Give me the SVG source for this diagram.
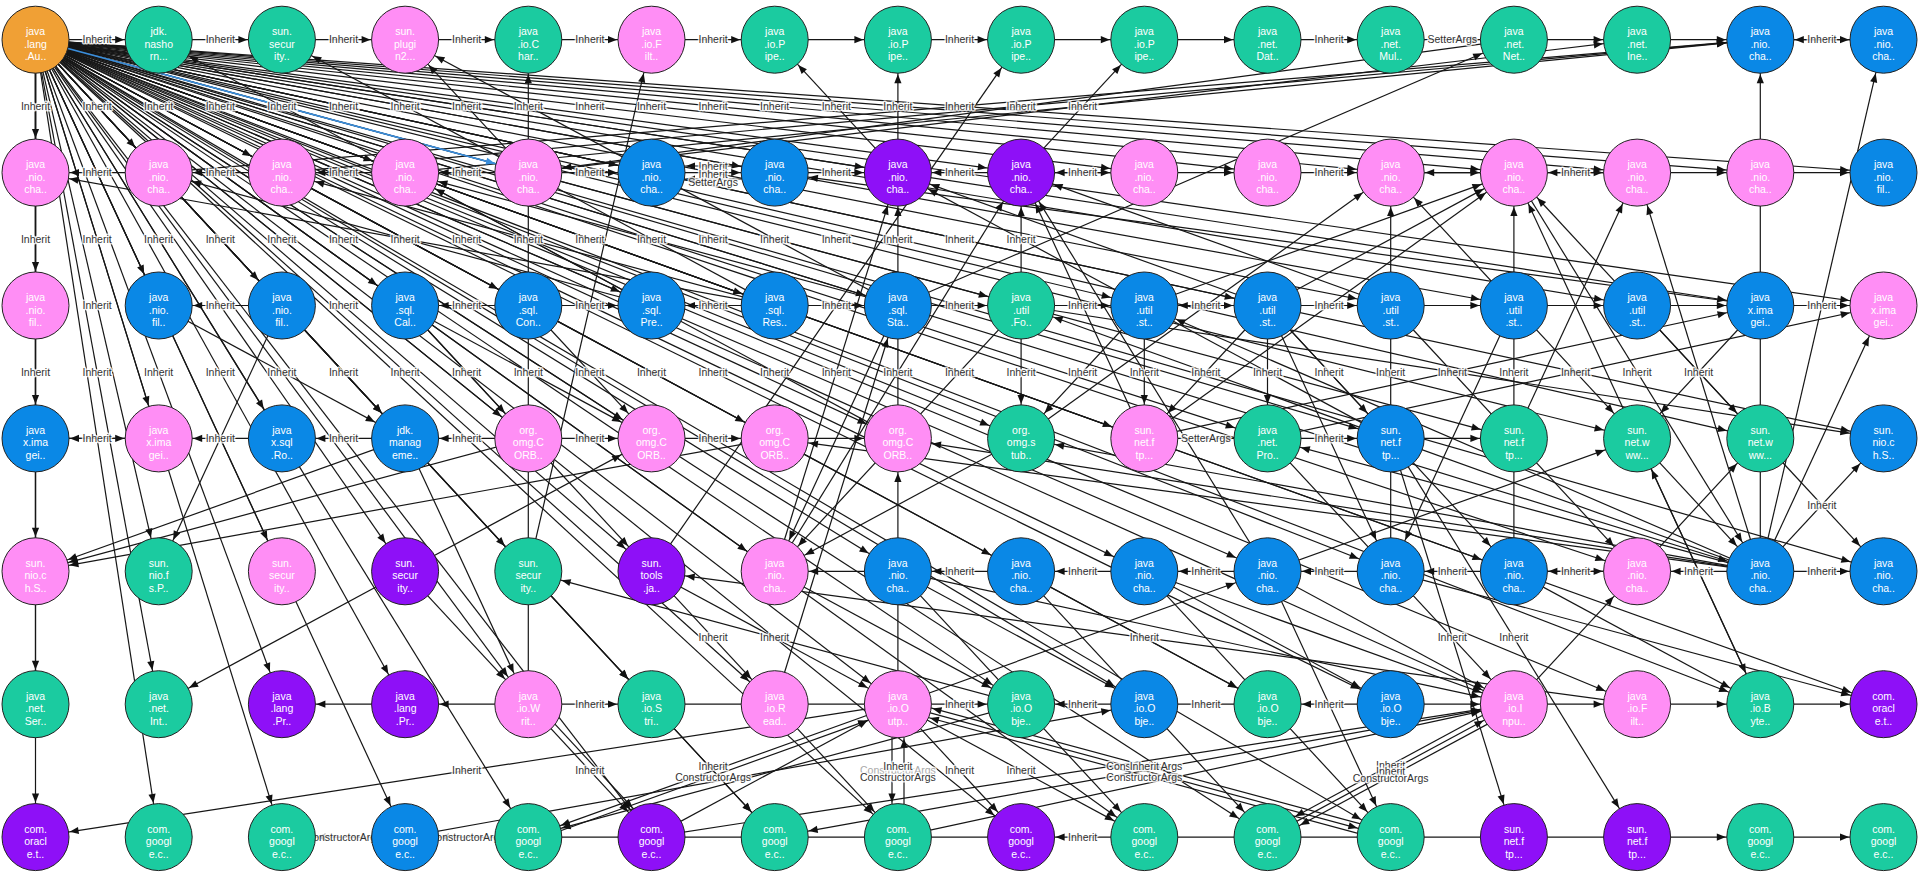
<svg xmlns="http://www.w3.org/2000/svg" width="1919" height="878" viewBox="0 0 1919 878">
<defs>
<style>
.e{fill:none;stroke:#161616;stroke-width:1.2;marker-end:url(#a)}
.p{fill:none;stroke:#161616;stroke-width:1.2}
.bl{fill:none;stroke:#3a8edc;stroke-width:1.6;marker-end:url(#ab)}
.lb text{font-family:"Liberation Sans",Arial,sans-serif;font-size:10.5px;fill:#333;text-anchor:middle;paint-order:stroke;stroke:rgba(255,255,255,0.8);stroke-width:3px;stroke-linejoin:round}
.lb text.f{fill:#aaa}
.nd text{font-family:"Liberation Sans",Arial,sans-serif;font-size:10.5px;fill:#fff;text-anchor:middle}
.nd circle{stroke:#222;stroke-width:1}
.o{fill:#f0a035}.g{fill:#1bcba0}.pk{fill:#ff8ef5}.b{fill:#0a88e6}.u{fill:#8e10f7}
</style>
<marker id="a" markerUnits="userSpaceOnUse" viewBox="0 -6 50 12" markerWidth="50" markerHeight="12" refX="44.5" refY="0" orient="auto" overflow="visible"><path d="M10,0 L1,-3.6 L1,3.6 z" fill="#111"/></marker>
<marker id="ab" markerUnits="userSpaceOnUse" viewBox="0 -6 50 12" markerWidth="50" markerHeight="12" refX="44.5" refY="0" orient="auto" overflow="visible"><path d="M10,0 L1,-3.6 L1,3.6 z" fill="#3a8edc"/></marker>
</defs>
<rect width="1919" height="878" fill="#fff"/>
<g id="connectors">
<g id="fan">
<path class="e" d="M35.5 39.7L35.5 172.6"/><path class="e" d="M35.5 39.7L158.7 172.6"/><path class="e" d="M35.5 39.7L281.9 172.6"/><path class="e" d="M35.5 39.7L405.1 172.6"/><path class="e" d="M35.5 39.7L651.5 172.6"/><path class="e" d="M35.5 39.7L774.7 172.6"/><path class="e" d="M35.5 39.7L897.9 172.6"/><path class="e" d="M35.5 39.7L1021.1 172.6"/><path class="e" d="M35.5 39.7L1144.3 172.6"/><path class="e" d="M35.5 39.7L1267.5 172.6"/><path class="e" d="M35.5 39.7L1390.7 172.6"/><path class="e" d="M35.5 39.7L1513.9 172.6"/><path class="e" d="M35.5 39.7L1637.1 172.6"/><path class="e" d="M35.5 39.7L1760.3 172.6"/><path class="e" d="M35.5 39.7L1883.5 172.6"/>
<path class="e" d="M35.5 39.7L35.5 305.5"/><path class="e" d="M35.5 39.7L158.7 305.5"/><path class="e" d="M35.5 39.7L281.9 305.5"/><path class="e" d="M35.5 39.7L405.1 305.5"/><path class="e" d="M35.5 39.7L528.3 305.5"/><path class="e" d="M35.5 39.7L651.5 305.5"/><path class="e" d="M35.5 39.7L774.7 305.5"/><path class="e" d="M35.5 39.7L897.9 305.5"/><path class="e" d="M35.5 39.7L1021.1 305.5"/><path class="e" d="M35.5 39.7L1144.3 305.5"/><path class="e" d="M35.5 39.7L1267.5 305.5"/><path class="e" d="M35.5 39.7L1390.7 305.5"/><path class="e" d="M35.5 39.7L1513.9 305.5"/><path class="e" d="M35.5 39.7L1637.1 305.5"/><path class="e" d="M35.5 39.7L1760.3 305.5"/><path class="e" d="M35.5 39.7L1883.5 305.5"/>
<path class="e" d="M35.5 39.7L35.5 438.4"/><path class="e" d="M35.5 39.7L158.7 438.4"/><path class="e" d="M35.5 39.7L281.9 438.4"/><path class="e" d="M35.5 39.7L405.1 438.4"/><path class="e" d="M35.5 39.7L528.3 438.4"/><path class="e" d="M35.5 39.7L651.5 438.4"/><path class="e" d="M35.5 39.7L774.7 438.4"/><path class="e" d="M35.5 39.7L897.9 438.4"/><path class="e" d="M35.5 39.7L1021.1 438.4"/><path class="e" d="M35.5 39.7L1144.3 438.4"/><path class="e" d="M35.5 39.7L1267.5 438.4"/><path class="e" d="M35.5 39.7L1390.7 438.4"/><path class="e" d="M35.5 39.7L1513.9 438.4"/><path class="e" d="M35.5 39.7L1637.1 438.4"/><path class="e" d="M35.5 39.7L1760.3 438.4"/><path class="e" d="M35.5 39.7L1883.5 438.4"/>
<path class="e" d="M35.5 39.7L35.5 571.3"/><path class="e" d="M35.5 39.7L158.7 571.3"/><path class="e" d="M35.5 39.7L281.9 571.3"/><path class="e" d="M35.5 39.7L405.1 571.3"/><path class="e" d="M35.5 39.7L528.3 571.3"/><path class="e" d="M35.5 39.7L651.5 571.3"/><path class="e" d="M35.5 39.7L774.7 571.3"/><path class="e" d="M35.5 39.7L897.9 571.3"/><path class="e" d="M35.5 39.7L1021.1 571.3"/><path class="e" d="M35.5 39.7L1144.3 571.3"/><path class="e" d="M35.5 39.7L1267.5 571.3"/><path class="e" d="M35.5 39.7L1390.7 571.3"/><path class="e" d="M35.5 39.7L1513.9 571.3"/><path class="e" d="M35.5 39.7L1637.1 571.3"/><path class="e" d="M35.5 39.7L1760.3 571.3"/><path class="e" d="M35.5 39.7L1883.5 571.3"/>
<path class="e" d="M35.5 39.7L35.5 704.2"/><path class="e" d="M35.5 39.7L158.7 704.2"/><path class="e" d="M35.5 39.7L281.9 704.2"/><path class="e" d="M35.5 39.7L405.1 704.2"/><path class="e" d="M35.5 39.7L528.3 704.2"/><path class="e" d="M35.5 39.7L651.5 704.2"/><path class="e" d="M35.5 39.7L774.7 704.2"/><path class="e" d="M35.5 39.7L897.9 704.2"/><path class="e" d="M35.5 39.7L1021.1 704.2"/><path class="e" d="M35.5 39.7L1144.3 704.2"/><path class="e" d="M35.5 39.7L1267.5 704.2"/><path class="e" d="M35.5 39.7L1390.7 704.2"/><path class="e" d="M35.5 39.7L1513.9 704.2"/><path class="e" d="M35.5 39.7L1637.1 704.2"/><path class="e" d="M35.5 39.7L1760.3 704.2"/><path class="e" d="M35.5 39.7L1883.5 704.2"/>
<path class="e" d="M35.5 39.7L35.5 837.1"/><path class="e" d="M35.5 39.7L158.7 837.1"/><path class="e" d="M35.5 39.7L281.9 837.1"/><path class="e" d="M35.5 39.7L405.1 837.1"/><path class="e" d="M35.5 39.7L528.3 837.1"/><path class="e" d="M35.5 39.7L651.5 837.1"/><path class="e" d="M35.5 39.7L774.7 837.1"/><path class="e" d="M35.5 39.7L897.9 837.1"/><path class="e" d="M35.5 39.7L1021.1 837.1"/><path class="e" d="M35.5 39.7L1144.3 837.1"/><path class="e" d="M35.5 39.7L1267.5 837.1"/><path class="e" d="M35.5 39.7L1390.7 837.1"/>
</g>
<g id="rows">
<path class="e" d="M35.5 39.7L158.7 39.7"/><path class="e" d="M158.7 39.7L281.9 39.7"/><path class="e" d="M281.9 39.7L405.1 39.7"/><path class="e" d="M405.1 39.7L528.3 39.7"/><path class="e" d="M528.3 39.7L651.5 39.7"/><path class="e" d="M651.5 39.7L774.7 39.7"/><path class="e" d="M774.7 39.7L897.9 39.7"/><path class="e" d="M897.9 39.7L1021.1 39.7"/><path class="e" d="M1021.1 39.7L1144.3 39.7"/><path class="e" d="M1144.3 39.7L1267.5 39.7"/><path class="e" d="M1267.5 39.7L1390.7 39.7"/><path class="e" d="M1390.7 39.7L1513.9 39.7"/><path class="e" d="M1513.9 39.7L1637.1 39.7"/><path class="e" d="M1637.1 39.7L1760.3 39.7"/><path class="e" d="M1760.3 39.7L1883.5 39.7"/><path class="e" d="M1883.5 39.7L1760.3 39.7"/>
<path class="e" d="M158.7 172.6L35.5 172.6"/><path class="e" d="M281.9 172.6L158.7 172.6"/><path class="e" d="M405.1 172.6L281.9 172.6"/><path class="e" d="M528.3 172.6L405.1 172.6"/><path class="e" d="M528.3 172.6L651.5 172.6"/><path class="e" d="M651.5 172.6L774.7 172.6"/><path class="e" d="M774.7 166L651.5 166"/><path class="e" d="M774.7 179L651.5 179"/><path class="e" d="M774.7 172.6L897.9 172.6"/><path class="e" d="M1021.1 172.6L897.9 172.6"/><path class="e" d="M1144.3 172.6L1021.1 172.6"/><path class="e" d="M1021.1 172.6L1144.3 172.6"/><path class="e" d="M1144.3 172.6L1267.5 172.6"/><path class="e" d="M1267.5 172.6L1390.7 172.6"/><path class="e" d="M1390.7 172.6L1513.9 172.6"/><path class="e" d="M1513.9 172.6L1390.7 172.6"/><path class="e" d="M1513.9 172.6L1637.1 172.6"/><path class="e" d="M1637.1 172.6L1513.9 172.6"/><path class="e" d="M1637.1 172.6L1760.3 172.6"/><path class="e" d="M1760.3 172.6L1883.5 172.6"/>
<path class="e" d="M281.9 305.5L158.7 305.5"/><path class="e" d="M528.3 305.5L405.1 305.5"/><path class="e" d="M528.3 305.5L651.5 305.5"/><path class="e" d="M774.7 305.5L651.5 305.5"/><path class="e" d="M774.7 305.5L897.9 305.5"/><path class="e" d="M897.9 305.5L1021.1 305.5"/><path class="e" d="M1021.1 305.5L1144.3 305.5"/><path class="e" d="M1144.3 305.5L1267.5 305.5"/><path class="e" d="M1267.5 305.5L1144.3 305.5"/><path class="e" d="M1267.5 305.5L1390.7 305.5"/><path class="e" d="M1390.7 305.5L1513.9 305.5"/><path class="e" d="M1513.9 305.5L1637.1 305.5"/><path class="e" d="M1637.1 305.5L1760.3 305.5"/><path class="e" d="M1760.3 305.5L1883.5 305.5"/>
<path class="e" d="M35.5 438.4L158.7 438.4"/><path class="e" d="M158.7 438.4L35.5 438.4"/><path class="e" d="M281.9 438.4L158.7 438.4"/><path class="e" d="M405.1 438.4L281.9 438.4"/><path class="e" d="M528.3 438.4L405.1 438.4"/><path class="e" d="M528.3 438.4L651.5 438.4"/><path class="e" d="M651.5 438.4L774.7 438.4"/><path class="e" d="M774.7 438.4L897.9 438.4"/><path class="e" d="M1144.3 438.4L1267.5 438.4"/><path class="e" d="M1267.5 438.4L1390.7 438.4"/><path class="e" d="M1390.7 438.4L1513.9 438.4"/>
<path class="e" d="M897.9 571.3L774.7 571.3"/><path class="e" d="M1021.1 571.3L897.9 571.3"/><path class="e" d="M1144.3 571.3L1021.1 571.3"/><path class="e" d="M1267.5 571.3L1144.3 571.3"/><path class="e" d="M1390.7 571.3L1267.5 571.3"/><path class="e" d="M1513.9 571.3L1390.7 571.3"/><path class="e" d="M1513.9 571.3L1637.1 571.3"/><path class="e" d="M1637.1 571.3L1513.9 571.3"/><path class="e" d="M1760.3 571.3L1637.1 571.3"/><path class="e" d="M1760.3 571.3L1883.5 571.3"/>
<path class="e" d="M405.1 704.2L281.9 704.2"/><path class="e" d="M528.3 704.2L405.1 704.2"/><path class="e" d="M528.3 704.2L651.5 704.2"/><path class="p" d="M651.5 704.2L774.7 704.2"/><path class="p" d="M774.7 704.2L897.9 704.2"/><path class="e" d="M897.9 704.2L1021.1 704.2"/><path class="e" d="M1144.3 704.2L1021.1 704.2"/><path class="p" d="M1144.3 704.2L1267.5 704.2"/><path class="e" d="M1390.7 704.2L1267.5 704.2"/><path class="e" d="M1390.7 704.2L1513.9 704.2"/><path class="e" d="M1513.9 704.2L1637.1 704.2"/><path class="e" d="M1637.1 704.2L1760.3 704.2"/><path class="e" d="M1760.3 704.2L1883.5 704.2"/>
<path class="e" d="M405.1 837.1L281.9 837.1"/><path class="e" d="M528.3 837.1L405.1 837.1"/><path class="p" d="M528.3 837.1L1021.1 837.1"/><path class="e" d="M1144.3 837.1L1021.1 837.1"/><path class="p" d="M1144.3 837.1L1637.1 837.1"/><path class="e" d="M1637.1 837.1L1760.3 837.1"/><path class="e" d="M1760.3 837.1L1883.5 837.1"/>
</g>
<g id="cross">
<path class="e" d="M528.3 704.2L528.3 39.7"/><path class="e" d="M1760.3 571.3L1760.3 39.7"/><path class="e" d="M1513.9 571.3L1513.9 172.6"/><path class="e" d="M1390.7 571.3L1390.7 172.6"/><path class="e" d="M897.9 438.4L897.9 172.6"/><path class="e" d="M897.9 172.6L897.9 39.7"/><path class="e" d="M897.9 704.2L897.9 438.4"/>
<path class="e" d="M1760.3 571.3L1883.5 438.4"/><path class="e" d="M1760.3 571.3L1883.5 39.7"/><path class="e" d="M897.9 172.6L774.7 39.7"/><path class="e" d="M1021.1 172.6L1144.3 39.7"/><path class="e" d="M651.5 571.3L1021.1 39.7"/><path class="e" d="M528.3 571.3L651.5 39.7"/><path class="e" d="M528.3 172.6L405.1 39.7"/><path class="e" d="M897.9 305.5L405.1 39.7"/><path class="e" d="M774.7 305.5L281.9 39.7"/><path class="e" d="M651.5 305.5L158.7 39.7"/>
<path class="e" d="M158.7 172.6L1760.3 39.7"/><path class="e" d="M281.9 172.6L1760.3 39.7"/><path class="e" d="M405.1 172.6L1760.3 39.7"/><path class="e" d="M528.3 172.6L1637.1 39.7"/><path class="e" d="M1513.9 39.7L528.3 172.6"/><path class="e" d="M897.9 305.5L1513.9 39.7"/>
<path class="e" d="M774.7 305.5L35.5 172.6"/><path class="e" d="M651.5 305.5L158.7 172.6"/><path class="e" d="M774.7 305.5L281.9 172.6"/><path class="e" d="M897.9 305.5L405.1 172.6"/><path class="e" d="M897.9 438.4L405.1 172.6"/><path class="e" d="M1760.3 305.5L774.7 172.6"/><path class="e" d="M774.7 571.3L897.9 172.6"/><path class="e" d="M1267.5 305.5L897.9 172.6"/><path class="e" d="M1390.7 438.4L897.9 172.6"/><path class="e" d="M774.7 571.3L1021.1 172.6"/><path class="e" d="M1144.3 438.4L1021.1 172.6"/><path class="e" d="M1267.5 571.3L1021.1 172.6"/><path class="e" d="M1390.7 305.5L1021.1 172.6"/><path class="e" d="M1021.1 305.5L1021.1 172.6"/>
<path class="e" d="M1021.1 438.4L1390.7 172.6"/><path class="e" d="M1513.9 305.5L1390.7 172.6"/><path class="e" d="M1144.3 305.5L1513.9 172.6"/><path class="e" d="M1144.3 438.4L1513.9 172.6"/><path class="e" d="M1267.5 305.5L1513.9 172.6"/><path class="e" d="M1637.1 438.4L1513.9 172.6"/><path class="e" d="M1760.3 438.4L1513.9 172.6"/><path class="e" d="M1513.9 438.4L1637.1 172.6"/><path class="e" d="M1760.3 571.3L1637.1 172.6"/><path class="e" d="M1637.1 571.3L1760.3 438.4"/>
<path class="e" d="M1021.1 305.5L1021.1 438.4"/><path class="e" d="M1144.3 305.5L1021.1 438.4"/><path class="e" d="M1144.3 305.5L1144.3 438.4"/><path class="e" d="M1267.5 305.5L1144.3 438.4"/><path class="e" d="M1267.5 305.5L1267.5 438.4"/><path class="e" d="M1267.5 305.5L1390.7 438.4"/>
<path class="e" d="M281.9 305.5L158.7 571.3"/><path class="e" d="M405.1 438.4L35.5 571.3"/><path class="e" d="M528.3 438.4L35.5 571.3"/><path class="e" d="M774.7 438.4L35.5 571.3"/><path class="e" d="M405.1 438.4L528.3 704.2"/><path class="e" d="M405.1 571.3L528.3 704.2"/><path class="e" d="M405.1 571.3L158.7 704.2"/><path class="e" d="M405.1 571.3L651.5 438.4"/><path class="e" d="M528.3 571.3L651.5 704.2"/>
<path class="e" d="M528.3 704.2L651.5 837.1"/><path class="e" d="M532.7 700.1L655.9 833"/><path class="e" d="M897.9 704.2L35.5 837.1"/><path class="e" d="M897.9 704.2L528.3 837.1"/><path class="e" d="M530 841.8L899.6 708.9"/><path class="e" d="M892 704.2L892 837.1"/><path class="e" d="M904 837.1L904 704.2"/><path class="e" d="M897.9 704.2L1021.1 837.1"/><path class="e" d="M897.9 704.2L1144.3 837.1"/><path class="e" d="M897.9 704.2L1390.7 837.1"/><path class="e" d="M1389.4 841.9L896.6 709"/><path class="e" d="M1392 832.3L899.2 699.4"/>
<path class="e" d="M651.5 571.3L774.7 704.2"/><path class="e" d="M651.5 571.3L897.9 704.2"/><path class="e" d="M1637.1 704.2L651.5 571.3"/><path class="e" d="M1390.7 438.4L1513.9 837.1"/><path class="e" d="M1390.7 438.4L1637.1 837.1"/><path class="e" d="M1513.9 704.2L1637.1 571.3"/><path class="e" d="M1144.3 571.3L1513.9 704.2"/><path class="e" d="M1267.5 571.3L1513.9 704.2"/><path class="e" d="M897.9 571.3L1513.9 704.2"/><path class="e" d="M1267.5 438.4L1513.9 704.2"/>
<path class="e" d="M1267.5 837.1L1513.9 704.2"/><path class="e" d="M1516.3 708.6L1269.9 841.5"/><path class="e" d="M1511.5 699.8L1265.1 832.7"/><path class="e" d="M1513.9 571.3L1760.3 704.2"/><path class="e" d="M1390.7 571.3L1883.5 704.2"/><path class="e" d="M1637.1 438.4L1760.3 704.2"/><path class="e" d="M1144.3 571.3L1390.7 704.2"/>
<path class="e" d="M774.7 704.2L897.9 305.5"/><path class="e" d="M774.7 704.2L897.9 837.1"/><path class="e" d="M651.5 704.2L774.7 837.1"/><path class="e" d="M1513.9 704.2L774.7 837.1"/><path class="e" d="M651.5 837.1L897.9 704.2"/><path class="e" d="M897.9 704.2L1267.5 571.3"/><path class="e" d="M774.7 571.3L1021.1 704.2"/><path class="e" d="M897.9 571.3L1144.3 704.2"/><path class="e" d="M1021.1 571.3L1267.5 704.2"/><path class="e" d="M897.9 571.3L1144.3 837.1"/><path class="e" d="M1021.1 571.3L1267.5 837.1"/>
<path class="e" d="M1267.5 571.3L1637.1 438.4"/><path class="e" d="M1021.1 305.5L1883.5 438.4"/><path class="e" d="M1144.3 438.4L1760.3 305.5"/><path class="e" d="M1267.5 438.4L1883.5 305.5"/><path class="e" d="M1760.3 571.3L1144.3 305.5"/><path class="e" d="M1760.3 571.3L1021.1 305.5"/><path class="e" d="M1760.3 571.3L1267.5 438.4"/><path class="e" d="M1760.3 571.3L1021.1 438.4"/><path class="e" d="M1760.3 571.3L897.9 438.4"/><path class="e" d="M1760.3 571.3L774.7 438.4"/>
<path class="e" d="M1637.1 438.4L1760.3 571.3"/><path class="e" d="M1760.3 438.4L1883.5 571.3"/><path class="e" d="M1760.3 704.2L1637.1 438.4"/><path class="e" d="M405.1 305.5L651.5 438.4"/><path class="e" d="M405.1 305.5L651.5 571.3"/><path class="e" d="M1021.1 704.2L528.3 571.3"/><path class="e" d="M1021.1 704.2L528.3 837.1"/><path class="e" d="M405.1 837.1L1144.3 704.2"/>
<path class="e" d="M1513.9 305.5L1637.1 438.4"/><path class="e" d="M1637.1 305.5L1760.3 438.4"/><path class="e" d="M1513.9 305.5L1390.7 571.3"/><path class="e" d="M1390.7 305.5L1637.1 571.3"/><path class="e" d="M1267.5 305.5L1513.9 571.3"/><path class="e" d="M1267.5 305.5L1390.7 571.3"/><path class="e" d="M1760.3 305.5L1637.1 438.4"/><path class="e" d="M1760.3 571.3L1883.5 305.5"/><path class="e" d="M1513.9 172.6L1760.3 571.3"/>
<path class="e" d="M1021.1 438.4L774.7 571.3"/><path class="e" d="M1021.1 305.5L774.7 571.3"/><path class="e" d="M897.9 305.5L774.7 571.3"/><path class="e" d="M158.7 305.5L405.1 438.4"/><path class="e" d="M281.9 305.5L405.1 438.4"/><path class="e" d="M405.1 305.5L528.3 438.4"/><path class="e" d="M528.3 305.5L651.5 438.4"/><path class="e" d="M1267.5 571.3L1390.7 837.1"/><path class="e" d="M1144.3 571.3L1390.7 837.1"/><path class="e" d="M651.5 837.1L1513.9 704.2"/><path class="e" d="M897.9 837.1L1513.9 704.2"/>
</g>
<path id="hl" class="bl" d="M35.5 39.7L528.3 172.6"/>
<g class="lb">
<text x="35.5" y="109.8">Inherit</text><text x="97.1" y="109.8">Inherit</text><text x="158.7" y="109.8">Inherit</text><text x="220.3" y="109.8">Inherit</text><text x="281.9" y="109.8">Inherit</text><text x="343.5" y="109.8">Inherit</text><text x="405.1" y="109.8">Inherit</text><text x="466.7" y="109.8">Inherit</text><text x="528.3" y="109.8">Inherit</text><text x="589.9" y="109.8">Inherit</text><text x="651.5" y="109.8">Inherit</text><text x="713.1" y="109.8">Inherit</text><text x="774.7" y="109.8">Inherit</text><text x="836.3" y="109.8">Inherit</text><text x="897.9" y="109.8">Inherit</text><text x="959.5" y="109.8">Inherit</text><text x="1021.1" y="109.8">Inherit</text><text x="1082.7" y="109.8">Inherit</text>
<text x="35.5" y="242.7">Inherit</text><text x="97.1" y="242.7">Inherit</text><text x="158.7" y="242.7">Inherit</text><text x="220.3" y="242.7">Inherit</text><text x="281.9" y="242.7">Inherit</text><text x="343.5" y="242.7">Inherit</text><text x="405.1" y="242.7">Inherit</text><text x="466.7" y="242.7">Inherit</text><text x="528.3" y="242.7">Inherit</text><text x="589.9" y="242.7">Inherit</text><text x="651.5" y="242.7">Inherit</text><text x="713.1" y="242.7">Inherit</text><text x="774.7" y="242.7">Inherit</text><text x="836.3" y="242.7">Inherit</text><text x="897.9" y="242.7">Inherit</text><text x="959.5" y="242.7">Inherit</text><text x="1021.1" y="242.7">Inherit</text>
<text x="35.5" y="375.6">Inherit</text><text x="97.1" y="375.6">Inherit</text><text x="158.7" y="375.6">Inherit</text><text x="220.3" y="375.6">Inherit</text><text x="281.9" y="375.6">Inherit</text><text x="343.5" y="375.6">Inherit</text><text x="405.1" y="375.6">Inherit</text><text x="466.7" y="375.6">Inherit</text><text x="528.3" y="375.6">Inherit</text><text x="589.9" y="375.6">Inherit</text><text x="651.5" y="375.6">Inherit</text><text x="713.1" y="375.6">Inherit</text><text x="774.7" y="375.6">Inherit</text><text x="836.3" y="375.6">Inherit</text><text x="897.9" y="375.6">Inherit</text><text x="959.5" y="375.6">Inherit</text><text x="1021.1" y="375.6">Inherit</text><text x="1082.7" y="375.6">Inherit</text><text x="1144.3" y="375.6">Inherit</text><text x="1205.9" y="375.6">Inherit</text><text x="1267.5" y="375.6">Inherit</text><text x="1329.1" y="375.6">Inherit</text><text x="1390.7" y="375.6">Inherit</text><text x="1452.3" y="375.6">Inherit</text><text x="1513.9" y="375.6">Inherit</text><text x="1575.5" y="375.6">Inherit</text><text x="1637.1" y="375.6">Inherit</text><text x="1698.7" y="375.6">Inherit</text>
<text x="97.1" y="43.3">Inherit</text><text x="220.3" y="43.3">Inherit</text><text x="343.5" y="43.3">Inherit</text><text x="466.7" y="43.3">Inherit</text><text x="589.9" y="43.3">Inherit</text><text x="713.1" y="43.3">Inherit</text><text x="959.5" y="43.3">Inherit</text><text x="1329.1" y="43.3">Inherit</text><text x="1452.3" y="43.3">SetterArgs</text><text x="1821.9" y="43.3">Inherit</text>
<text x="97.1" y="176.2">Inherit</text><text x="220.3" y="176.2">Inherit</text><text x="343.5" y="176.2">Inherit</text><text x="466.7" y="176.2">Inherit</text><text x="589.9" y="176.2">Inherit</text><text x="713.1" y="169.5">Inherit</text><text x="713.1" y="177.5">Inherit</text><text x="713.1" y="186">SetterArgs</text><text x="836.3" y="176.2">Inherit</text><text x="959.5" y="176.2">Inherit</text><text x="1082.7" y="176.2">Inherit</text><text x="1329.1" y="176.2">Inherit</text><text x="1575.5" y="176.2">Inherit</text>
<text x="97.1" y="309.1">Inherit</text><text x="220.3" y="309.1">Inherit</text><text x="343.5" y="309.1">Inherit</text><text x="466.7" y="309.1">Inherit</text><text x="589.9" y="309.1">Inherit</text><text x="713.1" y="309.1">Inherit</text><text x="836.3" y="309.1">Inherit</text><text x="959.5" y="309.1">Inherit</text><text x="1082.7" y="309.1">Inherit</text><text x="1205.9" y="309.1">Inherit</text><text x="1329.1" y="309.1">Inherit</text><text x="1821.9" y="309.1">Inherit</text>
<text x="97.1" y="442">Inherit</text><text x="220.3" y="442">Inherit</text><text x="343.5" y="442">Inherit</text><text x="466.7" y="442">Inherit</text><text x="589.9" y="442">Inherit</text><text x="713.1" y="442">Inherit</text><text x="1205.9" y="442">SetterArgs</text><text x="1329.1" y="442">Inherit</text>
<text x="1821.9" y="508.5">Inherit</text>
<text x="959.5" y="574.9">Inherit</text><text x="1082.7" y="574.9">Inherit</text><text x="1205.9" y="574.9">Inherit</text><text x="1329.1" y="574.9">Inherit</text><text x="1452.3" y="574.9">Inherit</text><text x="1575.5" y="574.9">Inherit</text><text x="1698.7" y="574.9">Inherit</text><text x="1821.9" y="574.9">Inherit</text>
<text x="713.1" y="641.4">Inherit</text><text x="774.7" y="641.4">Inherit</text><text x="1144.3" y="641.4">Inherit</text><text x="1452.3" y="641.4">Inherit</text><text x="1513.9" y="641.4">Inherit</text>
<text x="589.9" y="707.8">Inherit</text><text x="959.5" y="707.8">Inherit</text><text x="1082.7" y="707.8">Inherit</text><text x="1205.9" y="707.8">Inherit</text><text x="1329.1" y="707.8">Inherit</text>
<text x="466.7" y="774.3">Inherit</text><text x="589.9" y="774.3">Inherit</text><text x="713.1" y="769.5">Inherit</text><text x="713.1" y="780.5">ConstructorArgs</text><text class="f" x="897.9" y="774.3">ConstructorArgs</text><text x="897.9" y="769.5">Inherit</text><text x="897.9" y="780.5">ConstructorArgs</text><text x="959.5" y="774.3">Inherit</text><text x="1021.1" y="774.3">Inherit</text><text x="1144.3" y="769.5">ConstructorArgs</text><text x="1144.3" y="769.5">Inherit</text><text x="1144.3" y="780.5">ConstructorArgs</text><text x="1390.7" y="768.5">Inherit</text><text x="1390.7" y="774.5">Inherit</text><text x="1390.7" y="781.5">ConstructorArgs</text>
<text x="343.5" y="840.7">ConstructorArgs</text><text x="466.7" y="840.7">ConstructorArgs</text><text x="1082.7" y="840.7">Inherit</text>
</g>
</g>
<g id="nodes" class="nd">
<g id="n0_0" transform="translate(35.5 39.7)"><circle r="33.5" class="o"/><text><tspan x="0" y="-4.5">java</tspan><tspan x="0" y="8">.lang</tspan><tspan x="0" y="20.5">.Au..</tspan></text></g>
<g id="n0_1" transform="translate(158.7 39.7)"><circle r="33.5" class="g"/><text><tspan x="0" y="-4.5">jdk.</tspan><tspan x="0" y="8">nasho</tspan><tspan x="0" y="20.5">rn...</tspan></text></g>
<g id="n0_2" transform="translate(281.9 39.7)"><circle r="33.5" class="g"/><text><tspan x="0" y="-4.5">sun.</tspan><tspan x="0" y="8">secur</tspan><tspan x="0" y="20.5">ity..</tspan></text></g>
<g id="n0_3" transform="translate(405.1 39.7)"><circle r="33.5" class="pk"/><text><tspan x="0" y="-4.5">sun.</tspan><tspan x="0" y="8">plugi</tspan><tspan x="0" y="20.5">n2...</tspan></text></g>
<g id="n0_4" transform="translate(528.3 39.7)"><circle r="33.5" class="g"/><text><tspan x="0" y="-4.5">java</tspan><tspan x="0" y="8">.io.C</tspan><tspan x="0" y="20.5">har..</tspan></text></g>
<g id="n0_5" transform="translate(651.5 39.7)"><circle r="33.5" class="pk"/><text><tspan x="0" y="-4.5">java</tspan><tspan x="0" y="8">.io.F</tspan><tspan x="0" y="20.5">ilt..</tspan></text></g>
<g id="n0_6" transform="translate(774.7 39.7)"><circle r="33.5" class="g"/><text><tspan x="0" y="-4.5">java</tspan><tspan x="0" y="8">.io.P</tspan><tspan x="0" y="20.5">ipe..</tspan></text></g>
<g id="n0_7" transform="translate(897.9 39.7)"><circle r="33.5" class="g"/><text><tspan x="0" y="-4.5">java</tspan><tspan x="0" y="8">.io.P</tspan><tspan x="0" y="20.5">ipe..</tspan></text></g>
<g id="n0_8" transform="translate(1021.1 39.7)"><circle r="33.5" class="g"/><text><tspan x="0" y="-4.5">java</tspan><tspan x="0" y="8">.io.P</tspan><tspan x="0" y="20.5">ipe..</tspan></text></g>
<g id="n0_9" transform="translate(1144.3 39.7)"><circle r="33.5" class="g"/><text><tspan x="0" y="-4.5">java</tspan><tspan x="0" y="8">.io.P</tspan><tspan x="0" y="20.5">ipe..</tspan></text></g>
<g id="n0_10" transform="translate(1267.5 39.7)"><circle r="33.5" class="g"/><text><tspan x="0" y="-4.5">java</tspan><tspan x="0" y="8">.net.</tspan><tspan x="0" y="20.5">Dat..</tspan></text></g>
<g id="n0_11" transform="translate(1390.7 39.7)"><circle r="33.5" class="g"/><text><tspan x="0" y="-4.5">java</tspan><tspan x="0" y="8">.net.</tspan><tspan x="0" y="20.5">Mul..</tspan></text></g>
<g id="n0_12" transform="translate(1513.9 39.7)"><circle r="33.5" class="g"/><text><tspan x="0" y="-4.5">java</tspan><tspan x="0" y="8">.net.</tspan><tspan x="0" y="20.5">Net..</tspan></text></g>
<g id="n0_13" transform="translate(1637.1 39.7)"><circle r="33.5" class="g"/><text><tspan x="0" y="-4.5">java</tspan><tspan x="0" y="8">.net.</tspan><tspan x="0" y="20.5">Ine..</tspan></text></g>
<g id="n0_14" transform="translate(1760.3 39.7)"><circle r="33.5" class="b"/><text><tspan x="0" y="-4.5">java</tspan><tspan x="0" y="8">.nio.</tspan><tspan x="0" y="20.5">cha..</tspan></text></g>
<g id="n0_15" transform="translate(1883.5 39.7)"><circle r="33.5" class="b"/><text><tspan x="0" y="-4.5">java</tspan><tspan x="0" y="8">.nio.</tspan><tspan x="0" y="20.5">cha..</tspan></text></g>
<g id="n1_0" transform="translate(35.5 172.6)"><circle r="33.5" class="pk"/><text><tspan x="0" y="-4.5">java</tspan><tspan x="0" y="8">.nio.</tspan><tspan x="0" y="20.5">cha..</tspan></text></g>
<g id="n1_1" transform="translate(158.7 172.6)"><circle r="33.5" class="pk"/><text><tspan x="0" y="-4.5">java</tspan><tspan x="0" y="8">.nio.</tspan><tspan x="0" y="20.5">cha..</tspan></text></g>
<g id="n1_2" transform="translate(281.9 172.6)"><circle r="33.5" class="pk"/><text><tspan x="0" y="-4.5">java</tspan><tspan x="0" y="8">.nio.</tspan><tspan x="0" y="20.5">cha..</tspan></text></g>
<g id="n1_3" transform="translate(405.1 172.6)"><circle r="33.5" class="pk"/><text><tspan x="0" y="-4.5">java</tspan><tspan x="0" y="8">.nio.</tspan><tspan x="0" y="20.5">cha..</tspan></text></g>
<g id="n1_4" transform="translate(528.3 172.6)"><circle r="33.5" class="pk"/><text><tspan x="0" y="-4.5">java</tspan><tspan x="0" y="8">.nio.</tspan><tspan x="0" y="20.5">cha..</tspan></text></g>
<g id="n1_5" transform="translate(651.5 172.6)"><circle r="33.5" class="b"/><text><tspan x="0" y="-4.5">java</tspan><tspan x="0" y="8">.nio.</tspan><tspan x="0" y="20.5">cha..</tspan></text></g>
<g id="n1_6" transform="translate(774.7 172.6)"><circle r="33.5" class="b"/><text><tspan x="0" y="-4.5">java</tspan><tspan x="0" y="8">.nio.</tspan><tspan x="0" y="20.5">cha..</tspan></text></g>
<g id="n1_7" transform="translate(897.9 172.6)"><circle r="33.5" class="u"/><text><tspan x="0" y="-4.5">java</tspan><tspan x="0" y="8">.nio.</tspan><tspan x="0" y="20.5">cha..</tspan></text></g>
<g id="n1_8" transform="translate(1021.1 172.6)"><circle r="33.5" class="u"/><text><tspan x="0" y="-4.5">java</tspan><tspan x="0" y="8">.nio.</tspan><tspan x="0" y="20.5">cha..</tspan></text></g>
<g id="n1_9" transform="translate(1144.3 172.6)"><circle r="33.5" class="pk"/><text><tspan x="0" y="-4.5">java</tspan><tspan x="0" y="8">.nio.</tspan><tspan x="0" y="20.5">cha..</tspan></text></g>
<g id="n1_10" transform="translate(1267.5 172.6)"><circle r="33.5" class="pk"/><text><tspan x="0" y="-4.5">java</tspan><tspan x="0" y="8">.nio.</tspan><tspan x="0" y="20.5">cha..</tspan></text></g>
<g id="n1_11" transform="translate(1390.7 172.6)"><circle r="33.5" class="pk"/><text><tspan x="0" y="-4.5">java</tspan><tspan x="0" y="8">.nio.</tspan><tspan x="0" y="20.5">cha..</tspan></text></g>
<g id="n1_12" transform="translate(1513.9 172.6)"><circle r="33.5" class="pk"/><text><tspan x="0" y="-4.5">java</tspan><tspan x="0" y="8">.nio.</tspan><tspan x="0" y="20.5">cha..</tspan></text></g>
<g id="n1_13" transform="translate(1637.1 172.6)"><circle r="33.5" class="pk"/><text><tspan x="0" y="-4.5">java</tspan><tspan x="0" y="8">.nio.</tspan><tspan x="0" y="20.5">cha..</tspan></text></g>
<g id="n1_14" transform="translate(1760.3 172.6)"><circle r="33.5" class="pk"/><text><tspan x="0" y="-4.5">java</tspan><tspan x="0" y="8">.nio.</tspan><tspan x="0" y="20.5">cha..</tspan></text></g>
<g id="n1_15" transform="translate(1883.5 172.6)"><circle r="33.5" class="b"/><text><tspan x="0" y="-4.5">java</tspan><tspan x="0" y="8">.nio.</tspan><tspan x="0" y="20.5">fil..</tspan></text></g>
<g id="n2_0" transform="translate(35.5 305.5)"><circle r="33.5" class="pk"/><text><tspan x="0" y="-4.5">java</tspan><tspan x="0" y="8">.nio.</tspan><tspan x="0" y="20.5">fil..</tspan></text></g>
<g id="n2_1" transform="translate(158.7 305.5)"><circle r="33.5" class="b"/><text><tspan x="0" y="-4.5">java</tspan><tspan x="0" y="8">.nio.</tspan><tspan x="0" y="20.5">fil..</tspan></text></g>
<g id="n2_2" transform="translate(281.9 305.5)"><circle r="33.5" class="b"/><text><tspan x="0" y="-4.5">java</tspan><tspan x="0" y="8">.nio.</tspan><tspan x="0" y="20.5">fil..</tspan></text></g>
<g id="n2_3" transform="translate(405.1 305.5)"><circle r="33.5" class="b"/><text><tspan x="0" y="-4.5">java</tspan><tspan x="0" y="8">.sql.</tspan><tspan x="0" y="20.5">Cal..</tspan></text></g>
<g id="n2_4" transform="translate(528.3 305.5)"><circle r="33.5" class="b"/><text><tspan x="0" y="-4.5">java</tspan><tspan x="0" y="8">.sql.</tspan><tspan x="0" y="20.5">Con..</tspan></text></g>
<g id="n2_5" transform="translate(651.5 305.5)"><circle r="33.5" class="b"/><text><tspan x="0" y="-4.5">java</tspan><tspan x="0" y="8">.sql.</tspan><tspan x="0" y="20.5">Pre..</tspan></text></g>
<g id="n2_6" transform="translate(774.7 305.5)"><circle r="33.5" class="b"/><text><tspan x="0" y="-4.5">java</tspan><tspan x="0" y="8">.sql.</tspan><tspan x="0" y="20.5">Res..</tspan></text></g>
<g id="n2_7" transform="translate(897.9 305.5)"><circle r="33.5" class="b"/><text><tspan x="0" y="-4.5">java</tspan><tspan x="0" y="8">.sql.</tspan><tspan x="0" y="20.5">Sta..</tspan></text></g>
<g id="n2_8" transform="translate(1021.1 305.5)"><circle r="33.5" class="g"/><text><tspan x="0" y="-4.5">java</tspan><tspan x="0" y="8">.util</tspan><tspan x="0" y="20.5">.Fo..</tspan></text></g>
<g id="n2_9" transform="translate(1144.3 305.5)"><circle r="33.5" class="b"/><text><tspan x="0" y="-4.5">java</tspan><tspan x="0" y="8">.util</tspan><tspan x="0" y="20.5">.st..</tspan></text></g>
<g id="n2_10" transform="translate(1267.5 305.5)"><circle r="33.5" class="b"/><text><tspan x="0" y="-4.5">java</tspan><tspan x="0" y="8">.util</tspan><tspan x="0" y="20.5">.st..</tspan></text></g>
<g id="n2_11" transform="translate(1390.7 305.5)"><circle r="33.5" class="b"/><text><tspan x="0" y="-4.5">java</tspan><tspan x="0" y="8">.util</tspan><tspan x="0" y="20.5">.st..</tspan></text></g>
<g id="n2_12" transform="translate(1513.9 305.5)"><circle r="33.5" class="b"/><text><tspan x="0" y="-4.5">java</tspan><tspan x="0" y="8">.util</tspan><tspan x="0" y="20.5">.st..</tspan></text></g>
<g id="n2_13" transform="translate(1637.1 305.5)"><circle r="33.5" class="b"/><text><tspan x="0" y="-4.5">java</tspan><tspan x="0" y="8">.util</tspan><tspan x="0" y="20.5">.st..</tspan></text></g>
<g id="n2_14" transform="translate(1760.3 305.5)"><circle r="33.5" class="b"/><text><tspan x="0" y="-4.5">java</tspan><tspan x="0" y="8">x.ima</tspan><tspan x="0" y="20.5">gei..</tspan></text></g>
<g id="n2_15" transform="translate(1883.5 305.5)"><circle r="33.5" class="pk"/><text><tspan x="0" y="-4.5">java</tspan><tspan x="0" y="8">x.ima</tspan><tspan x="0" y="20.5">gei..</tspan></text></g>
<g id="n3_0" transform="translate(35.5 438.4)"><circle r="33.5" class="b"/><text><tspan x="0" y="-4.5">java</tspan><tspan x="0" y="8">x.ima</tspan><tspan x="0" y="20.5">gei..</tspan></text></g>
<g id="n3_1" transform="translate(158.7 438.4)"><circle r="33.5" class="pk"/><text><tspan x="0" y="-4.5">java</tspan><tspan x="0" y="8">x.ima</tspan><tspan x="0" y="20.5">gei..</tspan></text></g>
<g id="n3_2" transform="translate(281.9 438.4)"><circle r="33.5" class="b"/><text><tspan x="0" y="-4.5">java</tspan><tspan x="0" y="8">x.sql</tspan><tspan x="0" y="20.5">.Ro..</tspan></text></g>
<g id="n3_3" transform="translate(405.1 438.4)"><circle r="33.5" class="b"/><text><tspan x="0" y="-4.5">jdk.</tspan><tspan x="0" y="8">manag</tspan><tspan x="0" y="20.5">eme..</tspan></text></g>
<g id="n3_4" transform="translate(528.3 438.4)"><circle r="33.5" class="pk"/><text><tspan x="0" y="-4.5">org.</tspan><tspan x="0" y="8">omg.C</tspan><tspan x="0" y="20.5">ORB..</tspan></text></g>
<g id="n3_5" transform="translate(651.5 438.4)"><circle r="33.5" class="pk"/><text><tspan x="0" y="-4.5">org.</tspan><tspan x="0" y="8">omg.C</tspan><tspan x="0" y="20.5">ORB..</tspan></text></g>
<g id="n3_6" transform="translate(774.7 438.4)"><circle r="33.5" class="pk"/><text><tspan x="0" y="-4.5">org.</tspan><tspan x="0" y="8">omg.C</tspan><tspan x="0" y="20.5">ORB..</tspan></text></g>
<g id="n3_7" transform="translate(897.9 438.4)"><circle r="33.5" class="pk"/><text><tspan x="0" y="-4.5">org.</tspan><tspan x="0" y="8">omg.C</tspan><tspan x="0" y="20.5">ORB..</tspan></text></g>
<g id="n3_8" transform="translate(1021.1 438.4)"><circle r="33.5" class="g"/><text><tspan x="0" y="-4.5">org.</tspan><tspan x="0" y="8">omg.s</tspan><tspan x="0" y="20.5">tub..</tspan></text></g>
<g id="n3_9" transform="translate(1144.3 438.4)"><circle r="33.5" class="pk"/><text><tspan x="0" y="-4.5">sun.</tspan><tspan x="0" y="8">net.f</tspan><tspan x="0" y="20.5">tp...</tspan></text></g>
<g id="n3_10" transform="translate(1267.5 438.4)"><circle r="33.5" class="g"/><text><tspan x="0" y="-4.5">java</tspan><tspan x="0" y="8">.net.</tspan><tspan x="0" y="20.5">Pro..</tspan></text></g>
<g id="n3_11" transform="translate(1390.7 438.4)"><circle r="33.5" class="b"/><text><tspan x="0" y="-4.5">sun.</tspan><tspan x="0" y="8">net.f</tspan><tspan x="0" y="20.5">tp...</tspan></text></g>
<g id="n3_12" transform="translate(1513.9 438.4)"><circle r="33.5" class="g"/><text><tspan x="0" y="-4.5">sun.</tspan><tspan x="0" y="8">net.f</tspan><tspan x="0" y="20.5">tp...</tspan></text></g>
<g id="n3_13" transform="translate(1637.1 438.4)"><circle r="33.5" class="g"/><text><tspan x="0" y="-4.5">sun.</tspan><tspan x="0" y="8">net.w</tspan><tspan x="0" y="20.5">ww...</tspan></text></g>
<g id="n3_14" transform="translate(1760.3 438.4)"><circle r="33.5" class="g"/><text><tspan x="0" y="-4.5">sun.</tspan><tspan x="0" y="8">net.w</tspan><tspan x="0" y="20.5">ww...</tspan></text></g>
<g id="n3_15" transform="translate(1883.5 438.4)"><circle r="33.5" class="b"/><text><tspan x="0" y="-4.5">sun.</tspan><tspan x="0" y="8">nio.c</tspan><tspan x="0" y="20.5">h.S..</tspan></text></g>
<g id="n4_0" transform="translate(35.5 571.3)"><circle r="33.5" class="pk"/><text><tspan x="0" y="-4.5">sun.</tspan><tspan x="0" y="8">nio.c</tspan><tspan x="0" y="20.5">h.S..</tspan></text></g>
<g id="n4_1" transform="translate(158.7 571.3)"><circle r="33.5" class="g"/><text><tspan x="0" y="-4.5">sun.</tspan><tspan x="0" y="8">nio.f</tspan><tspan x="0" y="20.5">s.P..</tspan></text></g>
<g id="n4_2" transform="translate(281.9 571.3)"><circle r="33.5" class="pk"/><text><tspan x="0" y="-4.5">sun.</tspan><tspan x="0" y="8">secur</tspan><tspan x="0" y="20.5">ity..</tspan></text></g>
<g id="n4_3" transform="translate(405.1 571.3)"><circle r="33.5" class="u"/><text><tspan x="0" y="-4.5">sun.</tspan><tspan x="0" y="8">secur</tspan><tspan x="0" y="20.5">ity..</tspan></text></g>
<g id="n4_4" transform="translate(528.3 571.3)"><circle r="33.5" class="g"/><text><tspan x="0" y="-4.5">sun.</tspan><tspan x="0" y="8">secur</tspan><tspan x="0" y="20.5">ity..</tspan></text></g>
<g id="n4_5" transform="translate(651.5 571.3)"><circle r="33.5" class="u"/><text><tspan x="0" y="-4.5">sun.</tspan><tspan x="0" y="8">tools</tspan><tspan x="0" y="20.5">.ja..</tspan></text></g>
<g id="n4_6" transform="translate(774.7 571.3)"><circle r="33.5" class="pk"/><text><tspan x="0" y="-4.5">java</tspan><tspan x="0" y="8">.nio.</tspan><tspan x="0" y="20.5">cha..</tspan></text></g>
<g id="n4_7" transform="translate(897.9 571.3)"><circle r="33.5" class="b"/><text><tspan x="0" y="-4.5">java</tspan><tspan x="0" y="8">.nio.</tspan><tspan x="0" y="20.5">cha..</tspan></text></g>
<g id="n4_8" transform="translate(1021.1 571.3)"><circle r="33.5" class="b"/><text><tspan x="0" y="-4.5">java</tspan><tspan x="0" y="8">.nio.</tspan><tspan x="0" y="20.5">cha..</tspan></text></g>
<g id="n4_9" transform="translate(1144.3 571.3)"><circle r="33.5" class="b"/><text><tspan x="0" y="-4.5">java</tspan><tspan x="0" y="8">.nio.</tspan><tspan x="0" y="20.5">cha..</tspan></text></g>
<g id="n4_10" transform="translate(1267.5 571.3)"><circle r="33.5" class="b"/><text><tspan x="0" y="-4.5">java</tspan><tspan x="0" y="8">.nio.</tspan><tspan x="0" y="20.5">cha..</tspan></text></g>
<g id="n4_11" transform="translate(1390.7 571.3)"><circle r="33.5" class="b"/><text><tspan x="0" y="-4.5">java</tspan><tspan x="0" y="8">.nio.</tspan><tspan x="0" y="20.5">cha..</tspan></text></g>
<g id="n4_12" transform="translate(1513.9 571.3)"><circle r="33.5" class="b"/><text><tspan x="0" y="-4.5">java</tspan><tspan x="0" y="8">.nio.</tspan><tspan x="0" y="20.5">cha..</tspan></text></g>
<g id="n4_13" transform="translate(1637.1 571.3)"><circle r="33.5" class="pk"/><text><tspan x="0" y="-4.5">java</tspan><tspan x="0" y="8">.nio.</tspan><tspan x="0" y="20.5">cha..</tspan></text></g>
<g id="n4_14" transform="translate(1760.3 571.3)"><circle r="33.5" class="b"/><text><tspan x="0" y="-4.5">java</tspan><tspan x="0" y="8">.nio.</tspan><tspan x="0" y="20.5">cha..</tspan></text></g>
<g id="n4_15" transform="translate(1883.5 571.3)"><circle r="33.5" class="b"/><text><tspan x="0" y="-4.5">java</tspan><tspan x="0" y="8">.nio.</tspan><tspan x="0" y="20.5">cha..</tspan></text></g>
<g id="n5_0" transform="translate(35.5 704.2)"><circle r="33.5" class="g"/><text><tspan x="0" y="-4.5">java</tspan><tspan x="0" y="8">.net.</tspan><tspan x="0" y="20.5">Ser..</tspan></text></g>
<g id="n5_1" transform="translate(158.7 704.2)"><circle r="33.5" class="g"/><text><tspan x="0" y="-4.5">java</tspan><tspan x="0" y="8">.net.</tspan><tspan x="0" y="20.5">Int..</tspan></text></g>
<g id="n5_2" transform="translate(281.9 704.2)"><circle r="33.5" class="u"/><text><tspan x="0" y="-4.5">java</tspan><tspan x="0" y="8">.lang</tspan><tspan x="0" y="20.5">.Pr..</tspan></text></g>
<g id="n5_3" transform="translate(405.1 704.2)"><circle r="33.5" class="u"/><text><tspan x="0" y="-4.5">java</tspan><tspan x="0" y="8">.lang</tspan><tspan x="0" y="20.5">.Pr..</tspan></text></g>
<g id="n5_4" transform="translate(528.3 704.2)"><circle r="33.5" class="pk"/><text><tspan x="0" y="-4.5">java</tspan><tspan x="0" y="8">.io.W</tspan><tspan x="0" y="20.5">rit..</tspan></text></g>
<g id="n5_5" transform="translate(651.5 704.2)"><circle r="33.5" class="g"/><text><tspan x="0" y="-4.5">java</tspan><tspan x="0" y="8">.io.S</tspan><tspan x="0" y="20.5">tri..</tspan></text></g>
<g id="n5_6" transform="translate(774.7 704.2)"><circle r="33.5" class="pk"/><text><tspan x="0" y="-4.5">java</tspan><tspan x="0" y="8">.io.R</tspan><tspan x="0" y="20.5">ead..</tspan></text></g>
<g id="n5_7" transform="translate(897.9 704.2)"><circle r="33.5" class="pk"/><text><tspan x="0" y="-4.5">java</tspan><tspan x="0" y="8">.io.O</tspan><tspan x="0" y="20.5">utp..</tspan></text></g>
<g id="n5_8" transform="translate(1021.1 704.2)"><circle r="33.5" class="g"/><text><tspan x="0" y="-4.5">java</tspan><tspan x="0" y="8">.io.O</tspan><tspan x="0" y="20.5">bje..</tspan></text></g>
<g id="n5_9" transform="translate(1144.3 704.2)"><circle r="33.5" class="b"/><text><tspan x="0" y="-4.5">java</tspan><tspan x="0" y="8">.io.O</tspan><tspan x="0" y="20.5">bje..</tspan></text></g>
<g id="n5_10" transform="translate(1267.5 704.2)"><circle r="33.5" class="g"/><text><tspan x="0" y="-4.5">java</tspan><tspan x="0" y="8">.io.O</tspan><tspan x="0" y="20.5">bje..</tspan></text></g>
<g id="n5_11" transform="translate(1390.7 704.2)"><circle r="33.5" class="b"/><text><tspan x="0" y="-4.5">java</tspan><tspan x="0" y="8">.io.O</tspan><tspan x="0" y="20.5">bje..</tspan></text></g>
<g id="n5_12" transform="translate(1513.9 704.2)"><circle r="33.5" class="pk"/><text><tspan x="0" y="-4.5">java</tspan><tspan x="0" y="8">.io.I</tspan><tspan x="0" y="20.5">npu..</tspan></text></g>
<g id="n5_13" transform="translate(1637.1 704.2)"><circle r="33.5" class="pk"/><text><tspan x="0" y="-4.5">java</tspan><tspan x="0" y="8">.io.F</tspan><tspan x="0" y="20.5">ilt..</tspan></text></g>
<g id="n5_14" transform="translate(1760.3 704.2)"><circle r="33.5" class="g"/><text><tspan x="0" y="-4.5">java</tspan><tspan x="0" y="8">.io.B</tspan><tspan x="0" y="20.5">yte..</tspan></text></g>
<g id="n5_15" transform="translate(1883.5 704.2)"><circle r="33.5" class="u"/><text><tspan x="0" y="-4.5">com.</tspan><tspan x="0" y="8">oracl</tspan><tspan x="0" y="20.5">e.t..</tspan></text></g>
<g id="n6_0" transform="translate(35.5 837.1)"><circle r="33.5" class="u"/><text><tspan x="0" y="-4.5">com.</tspan><tspan x="0" y="8">oracl</tspan><tspan x="0" y="20.5">e.t..</tspan></text></g>
<g id="n6_1" transform="translate(158.7 837.1)"><circle r="33.5" class="g"/><text><tspan x="0" y="-4.5">com.</tspan><tspan x="0" y="8">googl</tspan><tspan x="0" y="20.5">e.c..</tspan></text></g>
<g id="n6_2" transform="translate(281.9 837.1)"><circle r="33.5" class="g"/><text><tspan x="0" y="-4.5">com.</tspan><tspan x="0" y="8">googl</tspan><tspan x="0" y="20.5">e.c..</tspan></text></g>
<g id="n6_3" transform="translate(405.1 837.1)"><circle r="33.5" class="b"/><text><tspan x="0" y="-4.5">com.</tspan><tspan x="0" y="8">googl</tspan><tspan x="0" y="20.5">e.c..</tspan></text></g>
<g id="n6_4" transform="translate(528.3 837.1)"><circle r="33.5" class="g"/><text><tspan x="0" y="-4.5">com.</tspan><tspan x="0" y="8">googl</tspan><tspan x="0" y="20.5">e.c..</tspan></text></g>
<g id="n6_5" transform="translate(651.5 837.1)"><circle r="33.5" class="u"/><text><tspan x="0" y="-4.5">com.</tspan><tspan x="0" y="8">googl</tspan><tspan x="0" y="20.5">e.c..</tspan></text></g>
<g id="n6_6" transform="translate(774.7 837.1)"><circle r="33.5" class="g"/><text><tspan x="0" y="-4.5">com.</tspan><tspan x="0" y="8">googl</tspan><tspan x="0" y="20.5">e.c..</tspan></text></g>
<g id="n6_7" transform="translate(897.9 837.1)"><circle r="33.5" class="g"/><text><tspan x="0" y="-4.5">com.</tspan><tspan x="0" y="8">googl</tspan><tspan x="0" y="20.5">e.c..</tspan></text></g>
<g id="n6_8" transform="translate(1021.1 837.1)"><circle r="33.5" class="u"/><text><tspan x="0" y="-4.5">com.</tspan><tspan x="0" y="8">googl</tspan><tspan x="0" y="20.5">e.c..</tspan></text></g>
<g id="n6_9" transform="translate(1144.3 837.1)"><circle r="33.5" class="g"/><text><tspan x="0" y="-4.5">com.</tspan><tspan x="0" y="8">googl</tspan><tspan x="0" y="20.5">e.c..</tspan></text></g>
<g id="n6_10" transform="translate(1267.5 837.1)"><circle r="33.5" class="g"/><text><tspan x="0" y="-4.5">com.</tspan><tspan x="0" y="8">googl</tspan><tspan x="0" y="20.5">e.c..</tspan></text></g>
<g id="n6_11" transform="translate(1390.7 837.1)"><circle r="33.5" class="g"/><text><tspan x="0" y="-4.5">com.</tspan><tspan x="0" y="8">googl</tspan><tspan x="0" y="20.5">e.c..</tspan></text></g>
<g id="n6_12" transform="translate(1513.9 837.1)"><circle r="33.5" class="u"/><text><tspan x="0" y="-4.5">sun.</tspan><tspan x="0" y="8">net.f</tspan><tspan x="0" y="20.5">tp...</tspan></text></g>
<g id="n6_13" transform="translate(1637.1 837.1)"><circle r="33.5" class="u"/><text><tspan x="0" y="-4.5">sun.</tspan><tspan x="0" y="8">net.f</tspan><tspan x="0" y="20.5">tp...</tspan></text></g>
<g id="n6_14" transform="translate(1760.3 837.1)"><circle r="33.5" class="g"/><text><tspan x="0" y="-4.5">com.</tspan><tspan x="0" y="8">googl</tspan><tspan x="0" y="20.5">e.c..</tspan></text></g>
<g id="n6_15" transform="translate(1883.5 837.1)"><circle r="33.5" class="g"/><text><tspan x="0" y="-4.5">com.</tspan><tspan x="0" y="8">googl</tspan><tspan x="0" y="20.5">e.c..</tspan></text></g>
</g>
</svg>
